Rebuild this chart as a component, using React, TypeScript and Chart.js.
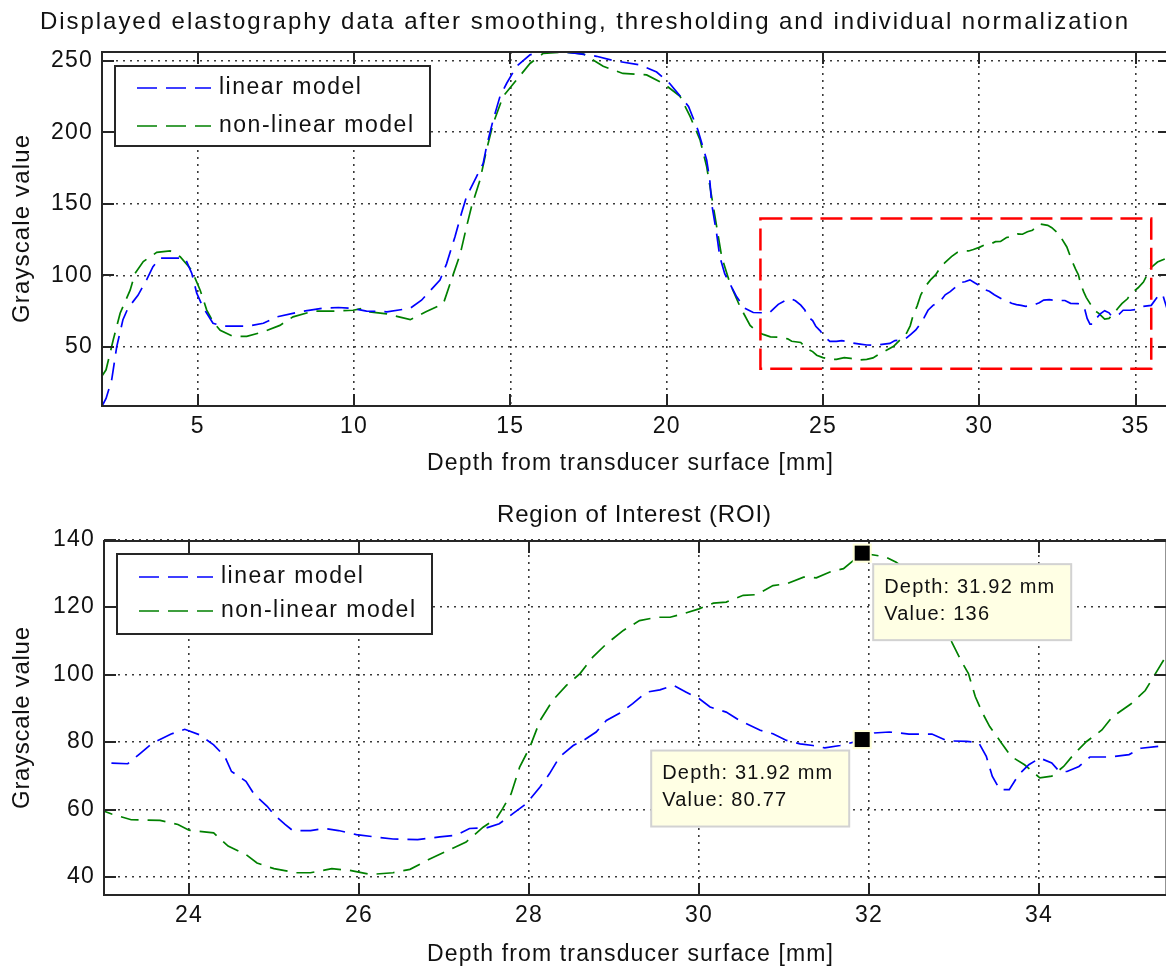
import React, { useEffect, useRef } from "react";
import { Chart, registerables } from "chart.js";

Chart.register(...registerables);

// ---------------- data ----------------
const linearDepth = [
  1.95, 2.07, 2.25, 2.41, 2.61, 2.77, 3.09, 3.37, 3.57, 3.8,
  4.6, 4.81, 4.97, 5.17, 5.49, 5.8, 6.13, 6.6, 7.1, 7.54,
  8.27, 9.0, 9.5, 9.9, 10.4, 11.05, 11.8, 12.16, 12.75, 12.96,
  13.23, 13.44, 13.6, 13.92, 14.13, 14.24, 14.45, 14.67, 14.88, 15.2,
  15.63, 16.0, 16.7, 17.12, 17.76, 18.3, 19.15, 19.68, 20.1, 20.7,
  21.0, 21.28, 21.38, 21.44, 21.6, 21.7, 21.86, 22.24, 22.5, 22.77,
  23.09, 23.28, 23.41, 23.57, 23.79, 23.95, 24.12, 24.29, 24.42, 24.5,
  24.67, 24.77, 24.92, 25.0, 25.13, 25.22, 25.43, 25.6, 25.76, 25.97,
  26.19, 26.4, 26.69, 26.95, 27.14, 27.3, 27.5, 27.65, 27.81, 27.97,
  28.13, 28.24, 28.36, 28.52, 28.64, 28.79, 28.91, 29.07, 29.22, 29.38,
  29.54, 29.7, 29.85, 30.0, 30.13, 30.32, 30.48, 30.72, 30.87, 31.03,
  31.19, 31.34, 31.48, 31.66, 31.82, 31.92, 32.06, 32.24, 32.47, 32.74,
  32.92, 33.15, 33.29, 33.38, 33.45, 33.54, 33.65, 33.76, 33.88, 34.01,
  34.15, 34.24, 34.33, 34.47, 34.6, 34.83, 35.06, 35.2, 35.5, 35.7,
  35.86, 36.0, 36.1,
];
const linearValue = [
  9, 14, 27, 50, 69, 77, 86, 97, 106, 112,
  112, 101.5, 87.5, 77.7, 66.5, 64.5, 64.5, 64.5, 66.5, 71,
  74.5, 77, 77.5, 77, 75, 74.5, 77, 82.6, 96.7, 108,
  127, 143.5, 155, 169, 178, 190, 208.5, 225, 234, 246,
  254, 256, 256, 255, 253, 250, 247, 242, 234, 218,
  201.5, 180.6, 166.6, 150, 129, 113, 101, 85, 77, 74,
  73.8, 73.6, 76.3, 79.7, 82.4, 83.8, 82.2, 79.2, 75.8, 71.3,
  68.4, 64.4, 61, 58.5, 55.6, 53.8, 53.8, 54.4, 53.8, 52.6,
  51.9, 51.3, 51.1, 51.9, 52.4, 54.4, 54.6, 55.8, 58.8, 61.8,
  66.7, 70.6, 75.6, 79, 80.5, 83, 86.4, 88.6, 91.4, 94.8,
  95.5, 96.8, 94.8, 92.9, 90.4, 88.9, 86.4, 83.5, 82.5, 80.5,
  79.5, 79, 78.3, 79, 80, 80.77, 82.7, 83, 82.4, 82.4,
  80.4, 80.2, 79.9, 75.8, 69.9, 65.9, 65.9, 70.3, 73.3, 75.3,
  73.8, 71.3, 71.3, 72.8, 75.6, 75.6, 76.3, 78.2, 79, 85,
  87, 77, 74,
];
const nonLinearDepth = [
  1.95, 2.07, 2.3, 2.52, 2.84, 3.0, 3.26, 3.69, 4.12, 4.44,
  4.81, 5.08, 5.29, 5.49, 5.72, 6.13, 6.57, 7.1, 7.63, 8.05,
  8.7, 9.33, 9.97, 10.3, 10.5, 11.05, 11.25, 11.8, 12.3, 12.86,
  13.18, 13.4, 13.6, 13.76, 14.03, 14.24, 14.45, 14.77, 15.2, 15.63,
  16.05, 16.7, 17.33, 17.97, 18.6, 19.36, 19.9, 20.43, 20.75, 21.07,
  21.28, 21.44, 21.6, 21.76, 22.03, 22.35, 22.67, 22.9, 23.09, 23.32,
  23.66, 23.87, 24.0, 24.29, 24.46, 24.67, 24.8, 25.0, 25.26, 25.43,
  25.68, 25.89, 26.14, 26.4, 26.6, 26.82, 27.03, 27.26, 27.46, 27.62,
  27.69, 27.79, 27.89, 28.01, 28.13, 28.28, 28.44, 28.6, 28.75, 28.91,
  29.11, 29.3, 29.5, 29.66, 29.81, 30.0, 30.17, 30.32, 30.52, 30.68,
  30.87, 31.03, 31.23, 31.38, 31.54, 31.7, 31.92, 32.19, 32.32, 32.54,
  32.8, 32.98, 33.08, 33.17, 33.25, 33.34, 33.42, 33.56, 33.67, 33.83,
  34.01, 34.15, 34.29, 34.42, 34.56, 34.74, 34.86, 35.08, 35.25, 35.37,
  35.49, 35.7, 36.1,
];
const nonLinearValue = [
  30, 34, 55, 73.5, 89.6, 101.5, 109.6, 116, 117, 113,
  103.6, 89.6, 75.7, 67.5, 61.6, 57.4, 57.4, 60.5, 65, 71,
  75, 75, 75.6, 77, 74.5, 73, 72, 69, 74.5, 80.3,
  101, 115, 134, 148, 166.6, 187.6, 206, 225, 236.5, 248,
  255, 256, 254.7, 246, 241, 240, 234, 225, 211, 194.5,
  176, 155, 134, 113, 94, 78, 65, 60.5, 58.7, 57,
  56.8, 55.6, 53.9, 53.1, 49.2, 46.7, 44.2, 42.5, 41.3, 41.3,
  42.5, 42, 40.8, 41.3, 42.3, 45.2, 47.7, 50.4, 54.8, 57.5,
  60.3, 64.7, 72.6, 78.5, 86.4, 92.4, 96.8, 100.3, 105.2, 109.1,
  113.1, 116, 117, 117, 118, 119.5, 121.2, 121.5, 123.5, 123.7,
  126.4, 126.9, 128.9, 128.7, 130.4, 131.4, 136, 134.9, 133.3, 129,
  119.8, 109.3, 104.3, 100.3, 93.5, 88.4, 84.6, 79.7, 75.8, 73.3,
  69.4, 69.9, 72.8, 76.7, 80.2, 83.6, 87.4, 91.3, 95.3, 100.3,
  105.3, 109.3, 113,
];

const seriesNames = ["linear model", "non-linear model"];
const seriesColors = ["#0000ff", "#008000"];

const overviewDepthRange = [1.94, 36.1];
const overviewValueRange = [8.7, 256];
const overviewDepthTicks = [5, 10, 15, 20, 25, 30, 35];
const overviewValueTicks = [50, 100, 150, 200, 250];

const roiDepthRange = [23, 35.5];
const roiValueRange = [34.7, 139.6];
const roiDepthTicks = [24, 26, 28, 30, 32, 34];
const roiValueTicks = [40, 60, 80, 100, 120, 140];

const tipDepth = 31.92;
const tipValues = [80.77, 136]; // linear, non-linear

const overviewTitle =
  "Displayed elastography data after smoothing, thresholding and individual normalization";
const roiTitle = "Region of Interest (ROI)";
const xAxisTitle = "Depth from transducer surface [mm]";
const yAxisTitle = "Grayscale value";

// ---------------- drawing helpers ----------------
const FONT = '"Liberation Sans", Arial, Helvetica, sans-serif';
const TEXT = "#111111";
const FRAME = "#262626";

function spacingFor(ctx: CanvasRenderingContext2D, text: string, size: number, width: number) {
  ctx.font = `${size}px ${FONT}`;
  (ctx as any).letterSpacing = "0px";
  const w = ctx.measureText(text).width;
  return text.length > 1 ? (width - w) / (text.length - 1) : 0;
}

function drawSpaced(
  ctx: CanvasRenderingContext2D,
  text: string,
  x: number,
  y: number,
  size: number,
  spacing: number,
  align: "left" | "center"
) {
  ctx.font = `${size}px ${FONT}`;
  (ctx as any).letterSpacing = "0px";
  const w = ctx.measureText(text).width + spacing * (text.length - 1);
  (ctx as any).letterSpacing = `${spacing}px`;
  ctx.textAlign = "left";
  ctx.textBaseline = "middle";
  ctx.fillText(text, align === "center" ? x - w / 2 : x, y);
}

function drawFitted(
  ctx: CanvasRenderingContext2D,
  text: string,
  cx: number,
  cy: number,
  size: number,
  width: number,
  rotate = false
) {
  ctx.save();
  const sp = spacingFor(ctx, text, size, width);
  ctx.fillStyle = TEXT;
  if (rotate) {
    ctx.translate(cx, cy);
    ctx.rotate(-Math.PI / 2);
    drawSpaced(ctx, text, 0, 0, size, sp, "center");
  } else {
    drawSpaced(ctx, text, cx, cy, size, sp, "center");
  }
  ctx.restore();
}

type PanelCfg = {
  width: number;
  height: number;
  top: number;
  area: { left: number; top: number; right: number; bottom: number };
  xRange: number[];
  yRange: number[];
  xTicks: number[];
  yTicks: number[];
  title: string;
  titleAt: [number, number, number];
  xLabelAt: [number, number, number];
  yLabelAt: [number, number, number];
  legend: { x: number; y: number; w: number; h: number; rows: number[] };
  showRoi: boolean;
  showTips: boolean;
};

const overviewPanel: PanelCfg = {
  width: 1180,
  height: 480,
  top: 0,
  area: { left: 102, top: 52, right: 1170, bottom: 406 },
  xRange: overviewDepthRange,
  yRange: overviewValueRange,
  xTicks: overviewDepthTicks,
  yTicks: overviewValueTicks,
  title: overviewTitle,
  titleAt: [584, 22, 1088],
  xLabelAt: [630, 464, 406],
  yLabelAt: [22, 229, 188],
  legend: { x: 115, y: 66, w: 315, h: 80, rows: [22, 60] },
  showRoi: true,
  showTips: false,
};

const roiPanel: PanelCfg = {
  width: 1180,
  height: 486,
  top: 480,
  area: { left: 104, top: 61, right: 1166.5, bottom: 415 },
  xRange: roiDepthRange,
  yRange: roiValueRange,
  xTicks: roiDepthTicks,
  yTicks: roiValueTicks,
  title: roiTitle,
  titleAt: [634, 35, 274],
  xLabelAt: [630, 475, 406],
  yLabelAt: [22, 238, 182],
  legend: { x: 117, y: 74, w: 315, h: 80, rows: [23, 57] },
  showRoi: false,
  showTips: true,
};

function decorPlugin(cfg: PanelCfg) {
  return {
    id: "matlabDecor",
    beforeDraw(chart: any) {
      (chart.ctx as any).letterSpacing = "1.2px";
    },
    afterDraw(chart: any) {
      const ctx: CanvasRenderingContext2D = chart.ctx;
      const xs = chart.scales.x;
      const ys = chart.scales.y;
      const { left, top, right, bottom } = chart.chartArea;
      ctx.save();
      ctx.setLineDash([]);

      // ROI rectangle
      if (cfg.showRoi) {
        const x0 = xs.getPixelForValue(roiDepthRange[0]);
        const x1 = xs.getPixelForValue(roiDepthRange[1]);
        const y0 = ys.getPixelForValue(roiValueRange[1]);
        const y1 = ys.getPixelForValue(roiValueRange[0]);
        ctx.strokeStyle = "#ff0000";
        ctx.lineWidth = 2.5;
        ctx.setLineDash([22, 8]);
        ctx.strokeRect(x0, y0, x1 - x0, y1 - y0);
        ctx.setLineDash([]);
      }

      // frame + inward ticks
      ctx.strokeStyle = FRAME;
      ctx.lineWidth = 2;
      ctx.strokeRect(left, top, right - left, bottom - top);
      const tl = 12;
      ctx.beginPath();
      cfg.xTicks.forEach((v) => {
        const p = Math.round(xs.getPixelForValue(v));
        ctx.moveTo(p, bottom);
        ctx.lineTo(p, bottom - tl);
        ctx.moveTo(p, top);
        ctx.lineTo(p, top + tl);
      });
      cfg.yTicks.forEach((v) => {
        const p = Math.round(ys.getPixelForValue(v));
        ctx.moveTo(left, p);
        ctx.lineTo(left + tl, p);
        ctx.moveTo(right, p);
        ctx.lineTo(right - tl, p);
      });
      ctx.stroke();

      // legend
      const lg = cfg.legend;
      ctx.fillStyle = "#ffffff";
      ctx.fillRect(lg.x, lg.y, lg.w, lg.h);
      ctx.strokeStyle = FRAME;
      ctx.lineWidth = 2;
      ctx.strokeRect(lg.x, lg.y, lg.w, lg.h);
      const legSp = spacingFor(ctx, seriesNames[1], 23, 194);
      chart.data.datasets.forEach((ds: any, i: number) => {
        const yy = lg.y + lg.rows[i];
        ctx.strokeStyle = ds.borderColor;
        ctx.lineWidth = 1.7;
        ctx.setLineDash([20, 9]);
        ctx.beginPath();
        ctx.moveTo(lg.x + 22, yy);
        ctx.lineTo(lg.x + 96, yy);
        ctx.stroke();
        ctx.setLineDash([]);
        ctx.fillStyle = TEXT;
        drawSpaced(ctx, ds.label, lg.x + 104, yy, 23, legSp, "left");
      });

      // data tips
      if (cfg.showTips) {
        const px = xs.getPixelForValue(tipDepth);
        const depthText = `Depth: ${tipDepth.toFixed(2)} mm`;
        const tipSp = spacingFor(ctx, depthText, 20, 170);
        tipValues.forEach((val, i) => {
          const py = ys.getPixelForValue(val);
          const bw = 198;
          const bh = 76;
          const bx = i === 0 ? px - 211 : px + 11;
          const by = py + 11;
          ctx.fillStyle = "#ffffe4";
          ctx.fillRect(bx, by, bw, bh);
          ctx.strokeStyle = "#d2d2d2";
          ctx.lineWidth = 2;
          ctx.strokeRect(bx, by, bw, bh);
          ctx.fillStyle = TEXT;
          drawSpaced(ctx, depthText, bx + 11, by + 23, 20, tipSp, "left");
          drawSpaced(ctx, `Value: ${val}`, bx + 11, by + 50, 20, tipSp, "left");
          ctx.fillStyle = "#ffffd8";
          ctx.fillRect(px - 9.5, py - 9.5, 19, 19);
          ctx.fillStyle = "#000000";
          ctx.fillRect(px - 7.5, py - 7.5, 15, 15);
        });
      }
      ctx.restore();

      // titles and axis labels
      drawFitted(ctx, cfg.title, cfg.titleAt[0], cfg.titleAt[1], 24, cfg.titleAt[2]);
      drawFitted(ctx, xAxisTitle, cfg.xLabelAt[0], cfg.xLabelAt[1], 23, cfg.xLabelAt[2]);
      drawFitted(ctx, yAxisTitle, cfg.yLabelAt[0], cfg.yLabelAt[1], 24, cfg.yLabelAt[2], true);
    },
  };
}

function makeConfig(cfg: PanelCfg): any {
  const gridCommon = { color: "#3a3a3a", lineWidth: 1.6, drawTicks: false };
  const xAxisHeight = cfg.height - cfg.area.bottom;
  return {
    type: "line",
    data: {
      datasets: [
        {
          label: seriesNames[0],
          data: linearDepth.map((x, i) => ({ x, y: linearValue[i] })),
          borderColor: seriesColors[0],
          borderWidth: 1.7,
          borderDash: [18, 9],
          pointRadius: 0,
          tension: 0,
          fill: false,
          clip: 0,
        },
        {
          label: seriesNames[1],
          data: nonLinearDepth.map((x, i) => ({ x, y: nonLinearValue[i] })),
          borderColor: seriesColors[1],
          borderWidth: 1.7,
          borderDash: [18, 9],
          pointRadius: 0,
          tension: 0,
          fill: false,
          clip: 0,
        },
      ],
    },
    options: {
      responsive: false,
      maintainAspectRatio: false,
      animation: false,
      devicePixelRatio: 1,
      events: [],
      layout: {
        padding: {
          left: 0,
          top: cfg.area.top,
          right: cfg.width - cfg.area.right,
          bottom: 0,
        },
      },
      plugins: {
        legend: { display: false },
        title: { display: false },
        tooltip: { enabled: false },
      },
      scales: {
        x: {
          type: "linear",
          min: cfg.xRange[0],
          max: cfg.xRange[1],
          afterBuildTicks: (s: any) => {
            s.ticks = cfg.xTicks.map((v) => ({ value: v }));
          },
          afterFit: (s: any) => {
            s.height = xAxisHeight;
          },
          ticks: {
            autoSkip: false,
            maxRotation: 0,
            padding: 7,
            color: TEXT,
            font: { family: FONT, size: 23 },
          },
          grid: gridCommon,
          border: { display: false, dash: [2, 5] },
        },
        y: {
          type: "linear",
          min: cfg.yRange[0],
          max: cfg.yRange[1],
          afterBuildTicks: (s: any) => {
            s.ticks = cfg.yTicks.map((v) => ({ value: v }));
          },
          afterFit: (s: any) => {
            s.width = cfg.area.left;
          },
          ticks: {
            padding: 9,
            color: TEXT,
            font: { family: FONT, size: 23 },
          },
          grid: gridCommon,
          border: { display: false, dash: [2, 5] },
        },
      },
    },
    plugins: [decorPlugin(cfg)],
  };
}

function Panel({ cfg }: { cfg: PanelCfg }) {
  const ref = useRef<HTMLCanvasElement>(null);
  useEffect(() => {
    const chart = new Chart(ref.current as HTMLCanvasElement, makeConfig(cfg));
    return () => chart.destroy();
  }, [cfg]);
  return (
    <canvas
      ref={ref}
      width={cfg.width}
      height={cfg.height}
      style={{
        position: "absolute",
        left: 0,
        top: cfg.top,
        width: cfg.width,
        height: cfg.height,
        display: "block",
      }}
    />
  );
}

export default function App() {
  return (
    <div
      style={{
        position: "fixed",
        left: 0,
        top: 0,
        width: 1166,
        height: 966,
        overflow: "hidden",
        background: "#ffffff",
      }}
    >
      <Panel cfg={overviewPanel} />
      <Panel cfg={roiPanel} />
    </div>
  );
}
